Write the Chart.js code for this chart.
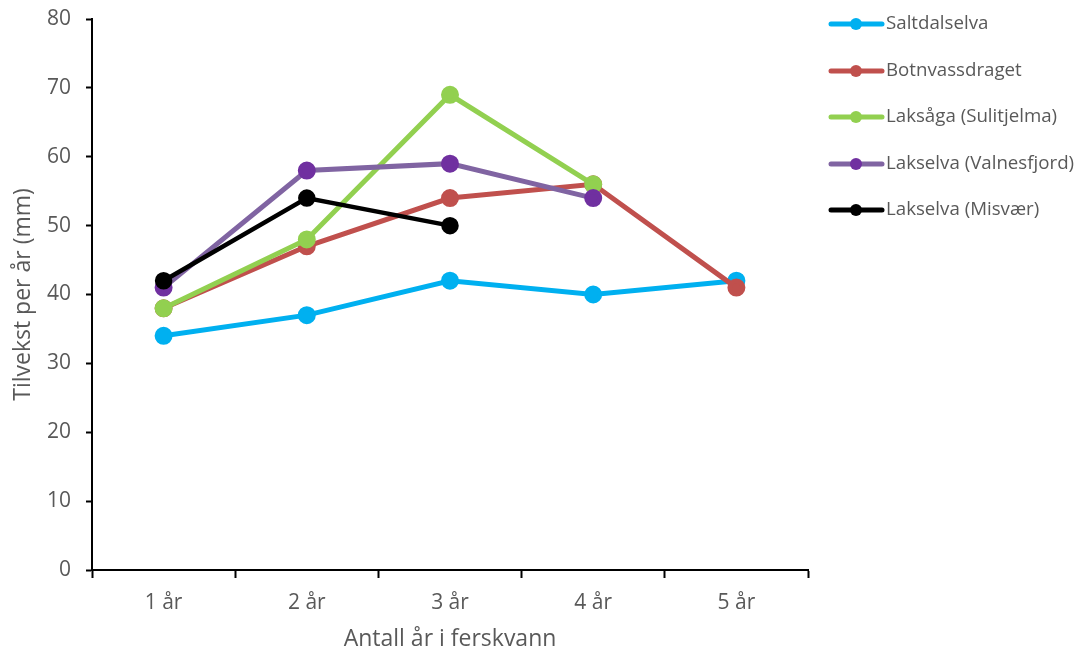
<!DOCTYPE html>
<html lang="no">
<head>
    <meta charset="UTF-8">
    <title>Tilvekst per år</title>
    <script src="https://cdn.jsdelivr.net/npm/chart.js"></script>
    <style>
        html, body { margin: 0; padding: 0; background: #fff; }
        #wrap { width: 1081px; height: 657px; position: relative; }
    </style>
</head>
<body>
    <div id="wrap"><canvas id="growthChart" width="1081" height="657"></canvas></div>

    <script>
        const categories = ["1 år", "2 år", "3 år", "4 år", "5 år"];
        const seriesNames = ["Saltdalselva", "Botnvassdraget", "Laksåga (Sulitjelma)", "Lakselva (Valnesfjord)", "Lakselva (Misvær)"];
        const saltdalselva = [34, 37, 42, 40, 42];
        const botnvassdraget = [38, 47, 54, 56, 41];
        const laksaga = [38, 48, 69, 56, null];
        const lakselvaValnes = [41, 58, 59, 54, null];
        const lakselvaMisvaer = [42, 54, 50, null, null];
        const yTicks = [0, 10, 20, 30, 40, 50, 60, 70, 80];

        const lineColors = ["#00B0F0", "#C0504D", "#92D050", "#8064A2", "#000000"];
        const dotColors = ["#00B0F0", "#C0504D", "#92D050", "#7030A0", "#000000"];
        const allValues = [saltdalselva, botnvassdraget, laksaga, lakselvaValnes, lakselvaMisvaer];

        const FONT = "'Open Sans', Lato, sans-serif";
        const TEXT = "#595959";

        const datasets = allValues.map((vals, i) => ({
            label: seriesNames[i],
            data: vals,
            borderColor: lineColors[i],
            backgroundColor: dotColors[i],
            pointBackgroundColor: dotColors[i],
            pointBorderColor: dotColors[i],
            borderWidth: i === 4 ? 4.5 : 5,
            pointRadius: 6.5,
            pointHoverRadius: 6.5,
            spanGaps: false,
            tension: 0,
            order: seriesNames.length - i
        }));

        // legend drawn like the spreadsheet one: line sample with a dot
        const sideLegend = {
            id: "sideLegend",
            afterDraw(chart) {
                const ctx = chart.ctx;
                const rows = [24, 71, 117, 164, 210];
                ctx.save();
                seriesNames.forEach((name, i) => {
                    const y = rows[i];
                    ctx.strokeStyle = lineColors[i];
                    ctx.lineWidth = 5;
                    ctx.lineCap = "round";
                    ctx.beginPath();
                    ctx.moveTo(831, y);
                    ctx.lineTo(882, y);
                    ctx.stroke();
                    ctx.fillStyle = dotColors[i];
                    ctx.beginPath();
                    ctx.arc(856, y, 6, 0, Math.PI * 2);
                    ctx.fill();
                    ctx.fillStyle = TEXT;
                    ctx.font = "18.7px " + FONT;
                    ctx.textBaseline = "middle";
                    ctx.textAlign = "left";
                    ctx.fillText(name, 886, y);
                });
                ctx.restore();
            }
        };

        new Chart(document.getElementById("growthChart"), {
            type: "line",
            data: { labels: categories, datasets: datasets },
            plugins: [sideLegend],
            options: {
                responsive: false,
                animation: false,
                layout: { padding: { top: 19, right: 273, bottom: 0, left: 0 } },
                plugins: {
                    legend: { display: false },
                    tooltip: { enabled: false }
                },
                scales: {
                    x: {
                        offset: true,
                        grid: {
                            offset: true,
                            drawOnChartArea: false,
                            drawTicks: true,
                            tickLength: 8,
                            tickWidth: 2,
                            tickColor: "#000"
                        },
                        border: { display: true, color: "#000", width: 2 },
                        ticks: { color: TEXT, font: { family: FONT, size: 21 }, padding: 12 },
                        title: {
                            display: true,
                            text: "Antall år i ferskvann",
                            color: TEXT,
                            font: { family: FONT, size: 23 },
                            padding: { top: 4, bottom: 4 }
                        },
                        afterFit(scale) {
                            scale.height = 87;
                            scale.paddingLeft = 0;
                            scale.paddingRight = 0;
                        }
                    },
                    y: {
                        min: 0,
                        max: 80,
                        afterBuildTicks(scale) { scale.ticks = yTicks.map(v => ({ value: v })); },
                        grid: {
                            drawOnChartArea: false,
                            drawTicks: true,
                            tickLength: 6,
                            tickWidth: 2,
                            tickColor: "#000"
                        },
                        border: { display: true, color: "#000", width: 2 },
                        ticks: { color: TEXT, font: { family: FONT, size: 21 }, padding: 15 },
                        title: {
                            display: true,
                            text: "Tilvekst per år (mm)",
                            color: TEXT,
                            font: { family: FONT, size: 23 },
                            padding: { top: 10, bottom: 0 }
                        },
                        afterFit(scale) {
                            scale.width = 92;
                            scale.paddingTop = 0;
                            scale.paddingBottom = 0;
                        }
                    }
                }
            }
        });
    </script>
</body>
</html>
